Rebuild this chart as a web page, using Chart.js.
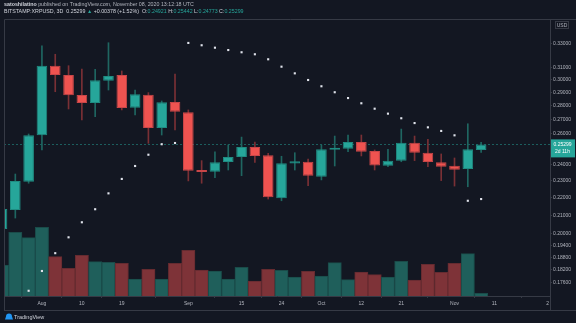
<!DOCTYPE html>
<html>
<head>
<meta charset="utf-8">
<script src="https://cdn.jsdelivr.net/npm/chart.js@4.4.1/dist/chart.umd.min.js"></script>
<style>
  html, body { margin: 0; padding: 0; background: #131722; }
  canvas { display: block; }
</style>
</head>
<body>
<canvas id="chart" width="576" height="323"></canvas>
<script>
// BITSTAMP:XRPUSD, 3D candles
const candleDates = ['Jul 23', 'Jul 26', 'Jul 29', 'Aug 1', 'Aug 4', 'Aug 7', 'Aug 10', 'Aug 13', 'Aug 16',
  'Aug 19', 'Aug 22', 'Aug 25', 'Aug 28', 'Aug 31', 'Sep 3', 'Sep 6', 'Sep 9', 'Sep 12', 'Sep 15', 'Sep 18',
  'Sep 21', 'Sep 24', 'Sep 27', 'Sep 30', 'Oct 3', 'Oct 6', 'Oct 9', 'Oct 12', 'Oct 15', 'Oct 18', 'Oct 21',
  'Oct 24', 'Oct 27', 'Oct 30', 'Nov 2', 'Nov 5', 'Nov 8'];

const openP = [0.2025, 0.2129, 0.2293, 0.2591, 0.3112, 0.3037, 0.2881, 0.2821, 0.2992, 0.3037, 0.2786, 0.2883,
  0.2641, 0.2829, 0.2753, 0.2365, 0.2354, 0.2415, 0.2447, 0.2513, 0.2458, 0.2195, 0.2405, 0.2417, 0.2324,
  0.2495, 0.2501, 0.2546, 0.2486, 0.2392, 0.2424, 0.2541, 0.2475, 0.2413, 0.2392, 0.2371, 0.24921];
const highP = [0.2151, 0.2340, 0.2600, 0.3278, 0.3207, 0.3112, 0.3085, 0.3083, 0.3306, 0.3069, 0.2919, 0.2899,
  0.2836, 0.3045, 0.2770, 0.2424, 0.2480, 0.2526, 0.2579, 0.2546, 0.2471, 0.2452, 0.2475, 0.2434, 0.2526,
  0.2586, 0.2593, 0.2593, 0.2493, 0.2497, 0.2634, 0.2586, 0.2564, 0.2467, 0.2441, 0.2671, 0.25442];
const lowP = [0.2009, 0.2084, 0.2284, 0.2493, 0.2906, 0.2777, 0.2698, 0.2721, 0.2919, 0.2770, 0.2733, 0.2537,
  0.2593, 0.2628, 0.2298, 0.2284, 0.2318, 0.2365, 0.2330, 0.2413, 0.2191, 0.2181, 0.2365, 0.2269, 0.2304,
  0.2390, 0.2482, 0.2454, 0.2365, 0.2386, 0.2417, 0.2424, 0.2386, 0.2300, 0.2267, 0.2263, 0.24773];
const closeP = [0.2134, 0.2298, 0.2591, 0.3112, 0.3037, 0.2879, 0.2821, 0.2995, 0.3029, 0.2784, 0.2886, 0.2641,
  0.2826, 0.2757, 0.2361, 0.2353, 0.2413, 0.2447, 0.2513, 0.2454, 0.2201, 0.2407, 0.2420, 0.2330, 0.2497,
  0.2508, 0.2546, 0.2482, 0.2393, 0.2424, 0.2541, 0.2475, 0.2415, 0.2386, 0.2367, 0.2497, 0.25299];
// volume, millions
const volumeM = [310, 637, 583, 687, 393, 277, 407, 343, 337, 327, 170, 267, 170, 327, 457, 260, 250, 170, 287,
  150, 267, 257, 190, 247, 200, 333, 163, 240, 213, 190, 347, 160, 317, 237, 327, 423, 27];
// parabolic SAR dots
const sarP = [null, null, 0.1721, 0.1813, 0.1900, 0.1981, 0.2061, 0.2133, 0.2224, 0.2310, 0.2390, 0.2462,
  0.2531, 0.2539, 0.3304, 0.3284, 0.3263, 0.3243, 0.3224, 0.3207, 0.3165, 0.3104, 0.3050, 0.2997, 0.2948,
  0.2902, 0.2858, 0.2819, 0.2779, 0.2743, 0.2710, 0.2676, 0.2646, 0.2621, 0.2591, 0.2181, 0.2191];

const yTickValues = [0.176, 0.182, 0.188, 0.194, 0.20, 0.21, 0.22, 0.23, 0.24, 0.26, 0.27, 0.28, 0.29, 0.30, 0.31, 0.33];
const xTickIndex = [3, 6, 9, 14, 18, 21, 24, 27, 30, 34, 37, 41];
const xTickText = ['Aug', '10', '19', 'Sep', '15', '24', 'Oct', '12', '21', 'Nov', '11', '2'];

const UP = '#26a69a', DOWN = '#ef5350';
const BG = '#131722', LINE = '#363a45', TXT = '#b2b5be';
const FONT = "'Liberation Sans', Arial, sans-serif";

const isUp = closeP.map((c, i) => c >= openP[i]);
const lastClose = closeP[closeP.length - 1];

const tvDecor = {
  id: 'tvDecor',
  beforeDraw(chart) {
    const ctx = chart.ctx;
    ctx.save();
    ctx.fillStyle = BG;
    ctx.fillRect(0, 0, chart.width, chart.height);
    ctx.restore();
  },
  beforeDatasetsDraw(chart) {
    // dashed last price line
    const ctx = chart.ctx, a = chart.chartArea;
    const y = Math.round(chart.scales.y.getPixelForValue(lastClose)) + 0.5;
    ctx.save();
    ctx.strokeStyle = 'rgba(38,166,154,0.5)';
    ctx.lineWidth = 1;
    ctx.setLineDash([2, 2]);
    ctx.beginPath();
    ctx.moveTo(a.left, y);
    ctx.lineTo(a.right, y);
    ctx.stroke();
    ctx.restore();
  },
  afterDraw(chart) {
    const ctx = chart.ctx, a = chart.chartArea, W = chart.width;
    ctx.save();
    // frame
    ctx.strokeStyle = LINE;
    ctx.lineWidth = 1;
    ctx.beginPath();
    ctx.moveTo(a.left + 0.5, 19.5); ctx.lineTo(W, 19.5);
    ctx.moveTo(a.left + 0.5, 19.5); ctx.lineTo(a.left + 0.5, 310.5);
    ctx.moveTo(a.left, 310.5); ctx.lineTo(W, 310.5);
    ctx.moveTo(a.right + 0.5, 296); ctx.lineTo(a.right + 0.5, 310.5);
    ctx.stroke();

    // header
    ctx.textBaseline = 'middle';
    let x = 4;
    const seg = (text, color, y, bold) => {
      ctx.font = (bold ? 'bold ' : '') + '5.3px ' + FONT;
      ctx.fillStyle = color;
      ctx.fillText(text, x, y);
      x += ctx.measureText(text).width;
    };
    seg('satoshilatino', '#d1d4dc', 5, true);
    seg(' published on TradingView.com, November 08, 2020 13:12:18 UTC', TXT, 5);
    x = 4;
    seg('BITSTAMP:XRPUSD, 3D  0.25299 ', '#d1d4dc', 12);
    seg('▲', UP, 12);
    seg(' +0.00378 (+1.52%)  O:', '#d1d4dc', 12);
    seg('0.24921', UP, 12);
    seg(' H:', '#d1d4dc', 12);
    seg('0.25442', UP, 12);
    seg(' L:', '#d1d4dc', 12);
    seg('0.24773', UP, 12);
    seg(' C:', '#d1d4dc', 12);
    seg('0.25299', UP, 12);

    // USD label
    ctx.strokeStyle = LINE;
    ctx.strokeRect(555.5, 21.5, 13, 7);
    ctx.font = '5px ' + FONT;
    ctx.fillStyle = TXT;
    ctx.textAlign = 'center';
    ctx.fillText('USD', 562, 25.5);

    // last price box
    const py = chart.scales.y.getPixelForValue(lastClose);
    ctx.fillStyle = UP;
    ctx.fillRect(a.right + 1, py - 5, 24, 18);
    ctx.fillStyle = '#ffffff';
    ctx.textAlign = 'left';
    ctx.fillText(lastClose.toFixed(5), a.right + 3.5, py);
    ctx.fillText('2d 11h', a.right + 5, py + 7.5);

    // footer logo
    ctx.fillStyle = '#2196f3';
    ctx.beginPath();
    ctx.arc(9, 316.5, 3, Math.PI, 0);
    ctx.lineTo(13, 319.5);
    ctx.lineTo(5, 319.5);
    ctx.closePath();
    ctx.fill();
    ctx.fillStyle = '#d1d4dc';
    ctx.font = '5.5px ' + FONT;
    ctx.textBaseline = 'middle';
    ctx.fillText('TradingView', 14, 317);
    ctx.restore();
  }
};

new Chart(document.getElementById('chart'), {
  type: 'bar',
  data: {
    datasets: [
      {
        type: 'line',
        label: 'SAR',
        data: sarP.map((v, i) => ({ x: i, y: v })),
        showLine: false,
        pointStyle: 'rect',
        pointRadius: 1.5,
        pointBorderWidth: 0,
        pointBackgroundColor: '#e0e3eb',
        yAxisID: 'y',
        order: 0
      },
      {
        label: 'Body',
        data: candleDates.map((_, i) => ({ x: i, y: [openP[i], closeP[i]] })),
        backgroundColor: isUp.map(u => u ? UP : DOWN),
        borderColor: isUp.map(u => u ? '#1f8c82' : '#c94648'),
        borderWidth: 1,
        borderSkipped: false,
        minBarLength: 2,
        grouped: false,
        categoryPercentage: 1,
        barPercentage: 0.8,
        yAxisID: 'y',
        order: 1
      },
      {
        label: 'Wick',
        data: candleDates.map((_, i) => ({ x: i, y: [lowP[i], highP[i]] })),
        backgroundColor: isUp.map(u => u ? '#1f6661' : '#7a3035'),
        borderWidth: 0,
        barThickness: 1,
        grouped: false,
        yAxisID: 'y',
        order: 2
      },
      {
        label: 'Volume',
        data: candleDates.map((_, i) => ({ x: i, y: volumeM[i] })),
        backgroundColor: isUp.map(u => u ? '#1f5f5b' : '#7e3338'),
        borderColor: isUp.map(u => u ? '#1a4b49' : '#652b30'),
        borderWidth: 1,
        grouped: false,
        categoryPercentage: 1,
        barPercentage: 1,
        yAxisID: 'yv',
        order: 3
      }
    ]
  },
  options: {
    responsive: false,
    animation: false,
    devicePixelRatio: 1,
    layout: { padding: { top: 20, left: 3, right: 0, bottom: 12 } },
    plugins: { legend: { display: false }, tooltip: { enabled: false } },
    scales: {
      x: {
        type: 'linear',
        min: 0.15,
        max: 41.175,
        offset: false,
        afterFit(scale) { scale.height = 15; },
        afterBuildTicks(scale) { scale.ticks = xTickIndex.map(v => ({ value: v })); },
        grid: { display: true, drawOnChartArea: false, drawTicks: true, tickLength: 2, color: LINE },
        border: { display: true, color: LINE },
        ticks: {
          autoSkip: false,
          maxRotation: 0,
          padding: 3,
          color: TXT,
          font: { size: 5, family: FONT },
          callback: v => xTickText[xTickIndex.indexOf(v)]
        }
      },
      y: {
        type: 'logarithmic',
        position: 'right',
        min: 0.16975,
        max: 0.35097,
        afterFit(scale) { scale.width = 26; },
        afterBuildTicks(scale) { scale.ticks = yTickValues.map(v => ({ value: v })); },
        grid: { display: true, drawOnChartArea: false, drawTicks: true, tickLength: 2, color: LINE },
        border: { display: true, color: LINE },
        ticks: {
          autoSkip: false,
          padding: 1,
          color: TXT,
          font: { size: 5, family: FONT },
          callback: v => Number(v).toFixed(5)
        }
      },
      yv: {
        type: 'linear',
        display: false,
        min: 0,
        max: 2760
      }
    }
  },
  plugins: [tvDecor]
});
</script>
</body>
</html>
